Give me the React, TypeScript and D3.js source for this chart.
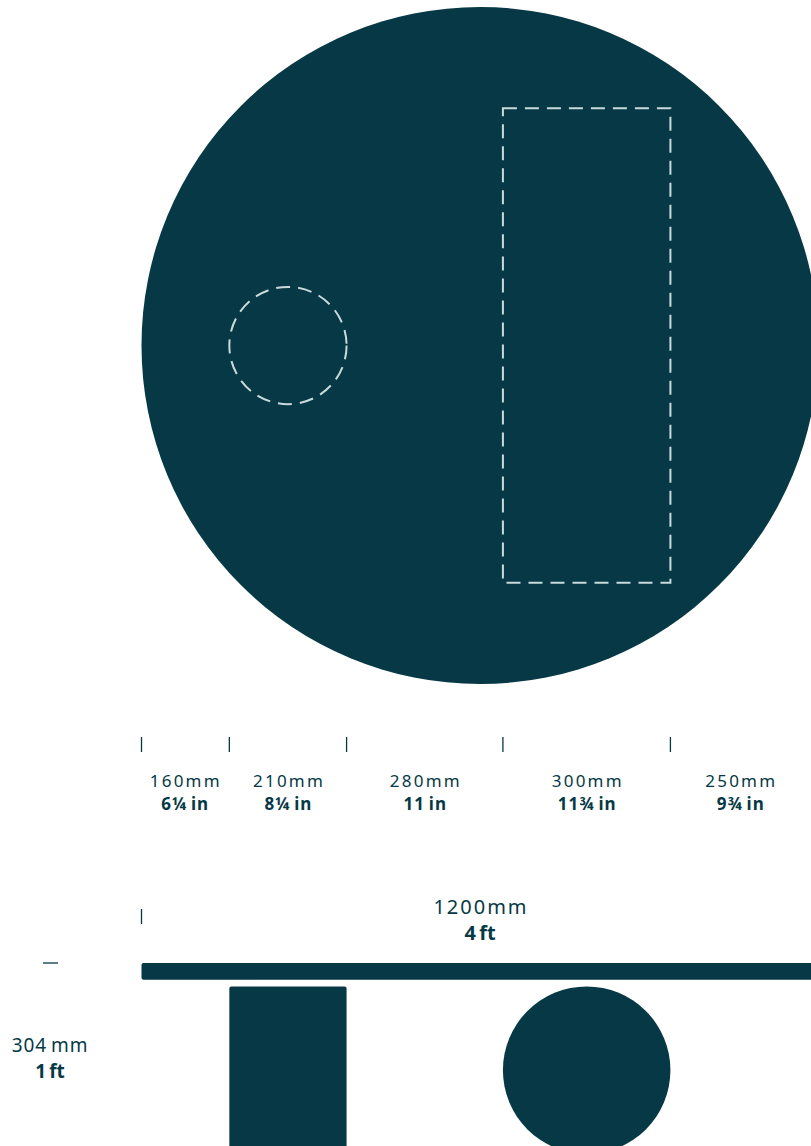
import React from 'react';
import * as d3 from 'd3';

// widths along the table diameter, left to right
const segmentMm = [160, 210, 280, 300, 250];
const segmentIn = ['6¼', '8¼', '11', '11¾', '9¾'];
const tableMm = 1200;
const tableFt = '4';
const heightMm = 304;
const heightFt = '1';
// round leg sits in segment 1, slab leg in segment 3
const roundLegSeg = 1;
const slabLegSeg = 3;
const slabDepthMm = 850;
const topThicknessMm = 30;
const legGapMm = 12;

const W = 811;
const H = 1146;
const ink = '#063945';
const dashInk = '#c9d9dc';
const font = '"Noto Sans", "Open Sans", sans-serif';
const thin = '\u2009';

const App: React.FC = () => {
  const x = d3.scaleLinear().domain([0, tableMm]).range([140, 810]);
  const len = (mm: number) => x(mm) - x(0);
  const edges = [0, ...Array.from(d3.cumsum(segmentMm))];

  // plan view
  const topR = 338.5;
  const topCx = x(0) + 1.5 + topR;
  const planCy = 345.5;

  const roundL = x(edges[roundLegSeg]);
  const roundR = x(edges[roundLegSeg + 1]);
  const slabL = x(edges[slabLegSeg]);
  const slabR = x(edges[slabLegSeg + 1]);

  // dimension rows
  const tickY = 737;
  const mmY = 787;
  const inY = 810;

  // elevation view
  const barTop = 963;
  const barH = len(topThicknessMm);
  const legTop = barTop + barH + len(legGapMm);
  const ballR = (slabR - slabL) / 2;
  const leftX = x(0) + 1.5;

  return (
    <svg
      width={W}
      height={H}
      viewBox={`0 0 ${W} ${H}`}
      style={{ position: 'absolute', left: 0, top: 0, display: 'block', background: '#fff' }}
    >
      {/* plan */}
      <circle cx={topCx} cy={planCy} r={topR} fill={ink} />
      <circle
        cx={(roundL + roundR) / 2}
        cy={planCy}
        r={(roundR - roundL) / 2}
        fill="none"
        stroke={dashInk}
        strokeWidth={2}
        strokeDasharray="14 8"
      />
      <rect
        x={slabL}
        y={planCy - len(slabDepthMm) / 2}
        width={slabR - slabL}
        height={len(slabDepthMm)}
        fill="none"
        stroke={dashInk}
        strokeWidth={2}
        strokeDasharray="14 8"
      />

      {/* segment ticks + labels */}
      {edges.slice(0, -1).map((e, i) => (
        <line
          key={`t${i}`}
          x1={i === 0 ? leftX : x(e)}
          x2={i === 0 ? leftX : x(e)}
          y1={tickY}
          y2={tickY + 15}
          stroke={ink}
          strokeWidth={1.3}
        />
      ))}
      {segmentMm.map((mm, i) => {
        const cx = (x(edges[i]) + x(edges[i + 1])) / 2;
        return (
          <g key={`l${i}`} fill={ink} fontFamily={font} textAnchor="middle">
            <text x={cx + 1.1} y={mmY} fontSize={17} letterSpacing={2.2}>
              {`${mm}mm`}
            </text>
            <text x={cx + 0.5} y={inY} fontSize={17} fontWeight={700} letterSpacing={1}>
              {`${segmentIn[i]}${thin}in`}
            </text>
          </g>
        );
      })}

      {/* elevation */}
      <line x1={leftX} x2={leftX} y1={909} y2={924} stroke={ink} strokeWidth={1.3} />
      <g fill={ink} fontFamily={font} textAnchor="middle">
        <text x={topCx + 1} y={914} fontSize={20} letterSpacing={2}>
          {`${tableMm}mm`}
        </text>
        <text x={topCx} y={940} fontSize={20} fontWeight={700}>
          {`${tableFt}${thin}ft`}
        </text>
      </g>
      <rect x={leftX} y={barTop} width={topR * 2 + 20} height={barH} rx={2} fill={ink} />
      <rect x={roundL} y={legTop} width={roundR - roundL} height={H - legTop + 10} rx={2} fill={ink} />
      <circle cx={(slabL + slabR) / 2} cy={legTop + ballR} r={ballR} fill={ink} />

      {/* height */}
      <line x1={43} x2={58} y1={barTop} y2={barTop} stroke={ink} strokeWidth={1.3} />
      <g fill={ink} fontFamily={font} textAnchor="middle">
        <text x={50} y={1052} fontSize={19} letterSpacing={0.9}>
          {`${heightMm}${thin}mm`}
        </text>
        <text x={50} y={1078} fontSize={19} fontWeight={700}>
          {`${heightFt}${thin}ft`}
        </text>
      </g>
    </svg>
  );
};

export default App;
